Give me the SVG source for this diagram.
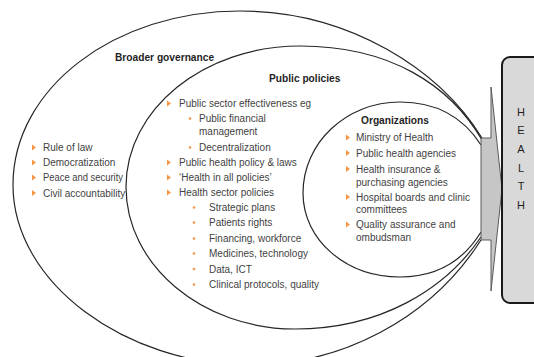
<svg xmlns="http://www.w3.org/2000/svg" xmlns:xlink="http://www.w3.org/1999/xlink" width="534" height="357" viewBox="0 0 534 357">
<style>
.ln{fill:none;stroke:#262626;stroke-width:1.2}
.t{font-family:"Liberation Sans",Arial,sans-serif;font-size:10px;fill:#3f3f3f}
.h{font-family:"Liberation Sans",Arial,sans-serif;font-size:10.2px;font-weight:bold;fill:#1f1f1f}
.hl{font-family:"Liberation Sans",Arial,sans-serif;font-size:11px;fill:#1f1f1f;text-anchor:middle}
</style>
<defs>
<path id="tri" d="M0,-3 L4,0 L0,3Z" fill="#f79646"/>
<circle id="dot" r="1.3" fill="#f79646"/>
</defs>
<rect width="534" height="357" fill="#ffffff"/>
<g id="connectors">
<path id="outer" class="ln" d="M482,138 C440,70 350,11 240,11 C115,11 13,88 13,185 C13,283 126,365 250,365 C340,365 430,320 481,240"/>
<path id="middle" class="ln" d="M482,140 C450,85 390,46 300,46 C204,46 126,109 126,187 C126,265 202,329 295,329 C380,329 445,290 481,237"/>
<path id="org" class="ln" d="M481,145 C465,120 440,102 400,102 C346,102 303,143 303,193 C303,240 346,277 400,277 C440,277 465,258 481,232"/>
</g>
<g id="broader">
<text class="h" x="115" y="61">Broader governance</text>
<use xlink:href="#tri" x="32" y="147.5"/>
<text class="t" x="43" y="151">Rule of law</text>
<use xlink:href="#tri" x="32" y="162.5"/>
<text class="t" x="43" y="166">Democratization</text>
<use xlink:href="#tri" x="32" y="177.5"/>
<text class="t" x="43" y="181" textLength="80" lengthAdjust="spacingAndGlyphs">Peace and security</text>
<use xlink:href="#tri" x="32" y="193"/>
<text class="t" x="43" y="196.5">Civil accountability</text>
</g>
<g id="public">
<text class="h" x="269" y="82">Public policies</text>
<use xlink:href="#tri" x="167" y="103.5"/>
<text class="t" x="179" y="107">Public sector effectiveness eg</text>
<use xlink:href="#dot" x="190" y="118.5"/>
<text class="t" x="199" y="122">Public financial</text>
<text class="t" x="199" y="135">management</text>
<use xlink:href="#dot" x="190" y="147.5"/>
<text class="t" x="199" y="151">Decentralization</text>
<use xlink:href="#tri" x="167" y="162.5"/>
<text class="t" x="179" y="166">Public health policy &amp; laws</text>
<use xlink:href="#tri" x="167" y="177.5"/>
<text class="t" x="179" y="181">‘Health in all policies’</text>
<use xlink:href="#tri" x="167" y="192.5"/>
<text class="t" x="179" y="196">Health sector policies</text>
<use xlink:href="#dot" x="194" y="207.5"/>
<text class="t" x="209" y="211">Strategic plans</text>
<use xlink:href="#dot" x="194" y="222.5"/>
<text class="t" x="209" y="226">Patients rights</text>
<use xlink:href="#dot" x="194" y="238.5"/>
<text class="t" x="209" y="242">Financing, workforce</text>
<use xlink:href="#dot" x="194" y="253.5"/>
<text class="t" x="209" y="257">Medicines, technology</text>
<use xlink:href="#dot" x="194" y="269"/>
<text class="t" x="209" y="272.5">Data, ICT</text>
<use xlink:href="#dot" x="194" y="284.5"/>
<text class="t" x="209" y="288">Clinical protocols, quality</text>
</g>
<g id="organizations">
<text class="h" x="361" y="124">Organizations</text>
<use xlink:href="#tri" x="346" y="137.5"/>
<text class="t" x="356" y="141">Ministry of Health</text>
<use xlink:href="#tri" x="346" y="153"/>
<text class="t" x="356" y="156.5">Public health agencies</text>
<use xlink:href="#tri" x="346" y="169"/>
<text class="t" x="356" y="172.5">Health insurance &amp;</text>
<text class="t" x="356" y="185.5">purchasing agencies</text>
<use xlink:href="#tri" x="346" y="197"/>
<text class="t" x="356" y="200.5">Hospital boards and clinic</text>
<text class="t" x="356" y="213">committees</text>
<use xlink:href="#tri" x="346" y="224.5"/>
<text class="t" x="356" y="228">Quality assurance and</text>
<text class="t" x="356" y="240.5">ombudsman</text>
</g>
<g id="arrow">
<polygon points="481,138 491,138 491,87 502,189 491,291 491,240 481,240" fill="#c6c6c6" stroke="#5a5a5a" stroke-width="1"/>
</g>
<g id="health">
<rect x="502" y="57" width="60" height="246" rx="8" ry="8" fill="#d9d9d9" stroke="#1a1a1a" stroke-width="2"/>
<text class="hl" x="521" y="116">H</text>
<text class="hl" x="521" y="134">E</text>
<text class="hl" x="521" y="153">A</text>
<text class="hl" x="521" y="172">L</text>
<text class="hl" x="521" y="190">T</text>
<text class="hl" x="521" y="209">H</text>
</g>
</svg>
